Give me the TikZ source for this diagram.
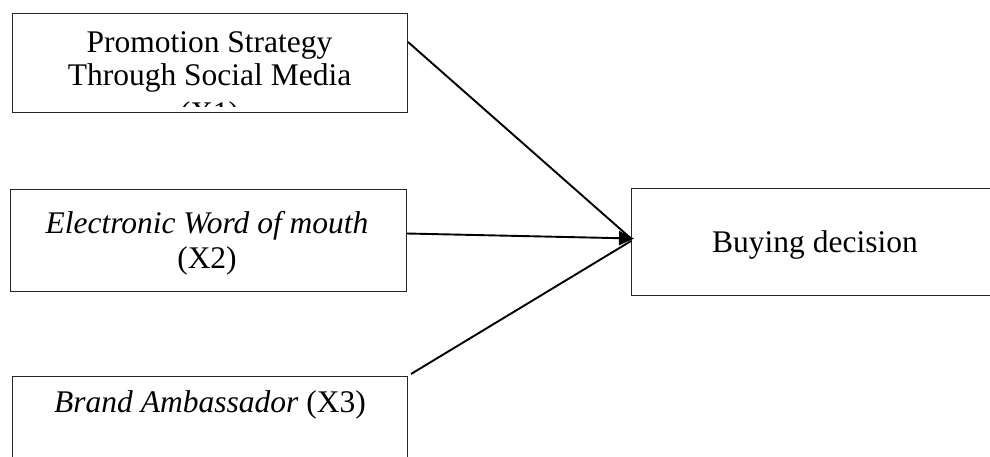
\documentclass[tikz,border=0pt]{standalone}
\usepackage{fontspec}
\setmainfont{Liberation Serif}
\usetikzlibrary{arrows.meta}
\begin{document}
\begin{tikzpicture}[x=1pt,y=1pt,
  box/.style={draw=black!85, line width=1pt, minimum width=395pt, inner sep=0pt, anchor=north west},
  lbl/.style={anchor=base, inner sep=0pt, font=\fontsize{31.5}{34}\selectfont},
  link/.style={draw=black, line width=1.9pt}]
\useasboundingbox (0,0) rectangle (990,-456);
\clip (0,0) rectangle (990,-456);
% boxes
\node[box, minimum height=99pt] (b1) at (12,-13) {};
\node[box, minimum height=102pt, minimum width=396pt] (b2) at (10,-189) {};
\node[box, minimum height=100pt] (b3) at (12,-376) {};
\node[box, minimum height=107pt, minimum width=380pt] (b4) at (631,-188) {};
% texts
\node[lbl] (t1a) at (209.5,-52) {Promotion Strategy};
\node[lbl] (t1b) at (209.5,-85) {Through Social Media};
\begin{scope}
  \clip (12,-95) rectangle (407,-106.5);
  \node[lbl] (t1c) at (209.5,-123) {(X1)};
\end{scope}
\node[lbl] (t2a) at (207,-233) {\itshape Electronic Word of mouth};
\node[lbl] (t2b) at (207,-268) {(X2)};
\node[lbl] (t3) at (210,-412) {\textit{Brand Ambassador} (X3)};
\node[lbl] (t4) at (815,-252) {Buying decision};
% connectors
\coordinate (in) at ([xshift=3pt,yshift=3.5pt]b4.west);
\draw[link] ([yshift=-29pt]b1.north east) -- ([xshift=0pt,yshift=3.5pt]b4.west);
\draw[link, -{Triangle[length=15pt,width=14pt]}] ([yshift=7pt]b2.east) -- (in);
\draw[link] ([xshift=3pt,yshift=2pt]b3.north east) -- ([yshift=1pt]b4.west);
\end{tikzpicture}
\end{document}
